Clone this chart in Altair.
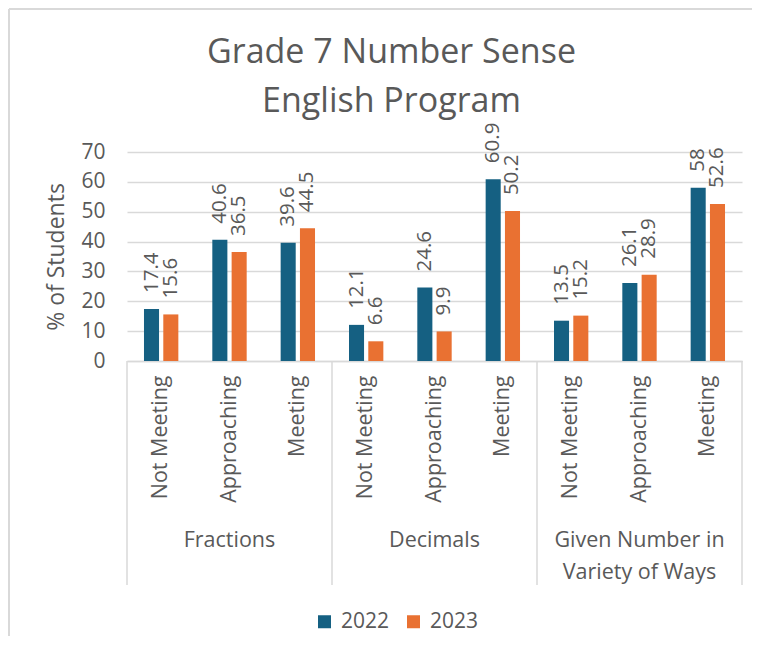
import altair as alt
import pandas as pd

title_lines = ["Grade 7 Number Sense\nEnglish Program"]
groups = ["Fractions", "Decimals", "Given Number in Variety of Ways"]
group_labels = ["Fractions", "Decimals", "Given Number in\nVariety of Ways"]
levels = ["Not Meeting", "Approaching", "Meeting"]
years = ["2022", "2023"]
v2022 = [17.4, 40.6, 39.6, 12.1, 24.6, 60.9, 13.5, 26.1, 58]
v2023 = [15.6, 36.5, 44.5, 6.6, 9.9, 50.2, 15.2, 28.9, 52.6]
y_ticks = [0, 10, 20, 30, 40, 50, 60, 70]
colors = ["#156082", "#E97132"]

keys = [f"{g}|{l}" for g in groups for l in levels]
rows = []
for i, k in enumerate(keys):
    for y, vals in zip(years, [v2022, v2023]):
        rows.append({"key": k, "year": y, "value": vals[i], "label": f"{vals[i]:g}"})
df = pd.DataFrame(rows)

first_keys = pd.DataFrame({"key": [f"{g}|{levels[0]}" for g in groups]})
last_key = pd.DataFrame({"key": [f"{groups[-1]}|{levels[-1]}"]})
mid_keys = pd.DataFrame({"key": [f"{g}|{levels[1]}" for g in groups], "glabel": group_labels})
title_df = pd.DataFrame({"t": title_lines})

W, H = 615, 209
FONT = "Open Sans"
GREY = "#595959"
LINE = "#d9d9d9"

xscale = alt.Scale(domain=keys, paddingInner=0, paddingOuter=0)
x_enc = alt.X("key:N", scale=xscale, sort=keys,
              axis=alt.Axis(title=None, labelAngle=-90, labelExpr="split(datum.label, '|')[1]",
                            labelFontSize=21.5, labelColor=GREY, labelFont=FONT, labelPadding=14,
                            ticks=False, domainColor=LINE, domainWidth=1.5, labelLimit=300))
xoff = alt.XOffset("year:N", scale=alt.Scale(domain=years, paddingInner=0.22, paddingOuter=0.88))
y_enc = alt.Y("value:Q", scale=alt.Scale(domain=[0, 70], nice=False),
              axis=alt.Axis(title="% of Students", values=y_ticks, labelFontSize=21,
                            labelColor=GREY, labelFont=FONT, titleFont=FONT, titleFontSize=23,
                            titleFontWeight="normal", titleColor=GREY, ticks=False, domain=False,
                            gridColor=LINE, gridWidth=1.5, labelPadding=22, titlePadding=12,
                            labelOverlap=False))

bars = alt.Chart(df).mark_bar().encode(
    x=x_enc, xOffset=xoff, y=y_enc,
    color=alt.Color("year:N", scale=alt.Scale(domain=years, range=colors),
                    legend=alt.Legend(title=None, orient="none", legendX=187, legendY=459,
                                      direction="horizontal", symbolType="square", symbolSize=169,
                                      symbolStrokeWidth=0, labelFontSize=21, labelColor=GREY,
                                      labelFont=FONT, labelOffset=6, columnPadding=13, padding=0)),
)

labels = alt.Chart(df).mark_text(angle=270, align="left", baseline="middle", dx=16,
                                 fontSize=20.5, font=FONT, color=GREY).encode(
    x=x_enc, xOffset=xoff, y=y_enc, text="label:N")

sep1 = alt.Chart(first_keys).mark_rule(color=LINE, strokeWidth=1.5).encode(
    x=alt.X("key:N", scale=xscale, sort=keys, bandPosition=0),
    y=alt.value(H), y2=alt.value(H + 224))
sep2 = alt.Chart(last_key).mark_rule(color=LINE, strokeWidth=1.5).encode(
    x=alt.X("key:N", scale=xscale, sort=keys, bandPosition=1),
    y=alt.value(H), y2=alt.value(H + 224))

glabels = alt.Chart(mid_keys).mark_text(fontSize=21.5, font=FONT, color=GREY, lineBreak="\n",
                                        lineHeight=32, baseline="alphabetic", align="center").encode(
    x=alt.X("key:N", scale=xscale, sort=keys, bandPosition=0.5),
    y=alt.value(H + 186), text="glabel:N")

title = alt.Chart(title_df).mark_text(fontSize=34, font=FONT, color=GREY, lineBreak="\n",
                                      lineHeight=49, baseline="alphabetic", align="center").encode(
    x=alt.value(W / 2 - 43), y=alt.value(-89), text="t:N")

one = pd.DataFrame({"a": [0]})
frame_left = alt.Chart(one).mark_rule(color=LINE, strokeWidth=2).encode(
    x=alt.value(-118), y=alt.value(-143), y2=alt.value(H + 300))
frame_top = alt.Chart(one).mark_rule(color=LINE, strokeWidth=2).encode(
    x=alt.value(-118), x2=alt.value(W + 40), y=alt.value(-143))

chart = alt.layer(frame_left, frame_top, bars, labels, sep1, sep2, glabels, title).properties(
    width=W, height=H,
    autosize=alt.AutoSizeParams(type="none"),
    padding={"left": 119, "top": 144, "right": 10, "bottom": 275},
).configure_view(stroke=None)

chart.save("out.html", embed_options={"renderer": "svg", "actions": False})
